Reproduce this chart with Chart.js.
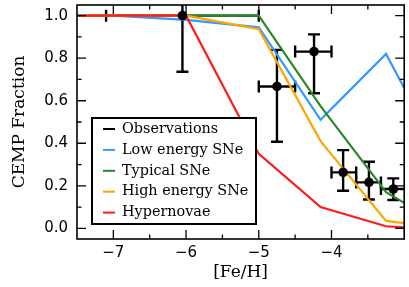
<!DOCTYPE html>
<html><head><meta charset="utf-8">
<script src="https://cdn.jsdelivr.net/npm/chart.js@4.4.1/dist/chart.umd.min.js"></script>
<style>html,body{margin:0;padding:0;background:#fff;}#wrap{width:409px;height:287px;}</style>
</head><body><div id="wrap"><canvas id="c" width="409" height="287"></canvas></div>
<script>
// ---- model curves ----
const feH        = [-7.5, -7.0, -6.0, -5.0, -4.15, -3.25, -3.0];
const lowEnergy  = [1.0, 1.0, 0.98, 0.945, 0.51, 0.82, 0.66];
const typicalSNe = [1.0, 1.0, 1.0, 1.0, 0.575, 0.17, 0.12];
const highEnergy = [1.0, 1.0, 1.0, 0.936, 0.41, 0.035, 0.025];
const hypernovae = [1.0, 1.0, 1.0, 0.35, 0.10, 0.01, 0.005];
// ---- observations ----
const obsFeH   = [-6.05, -4.75, -4.24, -3.84, -3.485, -3.15];
const obsFrac  = [1.0, 0.667, 0.831, 0.263, 0.216, 0.185];
const obsYLow  = [0.736, 0.407, 0.635, 0.177, 0.136, 0.133];
const obsYHigh = [1.264, 0.839, 0.912, 0.368, 0.313, 0.235];
const obsXLow  = [-7.1, -5.0, -4.5, -4.0, -3.66, -3.32];
const obsXHigh = [-5.0, -4.5, -4.0, -3.66, -3.32, -2.97];
// ---- ticks ----
const xMajor = [-7, -6, -5, -4];
const xMinor = [-6.5, -5.5, -4.5, -3.5];
const yMajor = [0.0, 0.2, 0.4, 0.6, 0.8, 1.0];
const yMinor = [0.1, 0.3, 0.5, 0.7, 0.9];
const seriesNames = ['Observations', 'Low energy SNe', 'Typical SNe', 'High energy SNe', 'Hypernovae'];
const seriesColors = ['#000000', '#3399ff', '#2a8a2a', '#ffa500', '#ff1a1a'];

const pts = (xs, ys) => xs.map((x, i) => ({x: x, y: ys[i]}));

function modelSet(idx, ys, order) {
  return {label: seriesNames[idx], data: pts(feH, ys), borderColor: seriesColors[idx],
    borderWidth: 2.2, pointRadius: 0, fill: false, tension: 0, order: order};
}

const errorBars = {
  id: 'errorBars',
  beforeDatasetsDraw(chart) {
    const {ctx, chartArea: a, scales: {x, y}} = chart;
    ctx.save();
    ctx.beginPath(); ctx.rect(a.left, a.top, a.right - a.left, a.bottom - a.top); ctx.clip();
    ctx.strokeStyle = '#000'; ctx.lineWidth = 2.4; ctx.lineCap = 'butt';
    const cap = 6;
    obsFeH.forEach((fx, i) => {
      const px = x.getPixelForValue(fx), py = y.getPixelForValue(obsFrac[i]);
      const x0 = x.getPixelForValue(obsXLow[i]), x1 = x.getPixelForValue(obsXHigh[i]);
      const y0 = y.getPixelForValue(obsYLow[i]), y1 = y.getPixelForValue(obsYHigh[i]);
      ctx.beginPath();
      ctx.moveTo(x0, py); ctx.lineTo(x1, py);
      ctx.moveTo(x0, py - cap); ctx.lineTo(x0, py + cap);
      ctx.moveTo(x1, py - cap); ctx.lineTo(x1, py + cap);
      ctx.moveTo(px, y0); ctx.lineTo(px, y1);
      ctx.moveTo(px - cap, y0); ctx.lineTo(px + cap, y0);
      ctx.moveTo(px - cap, y1); ctx.lineTo(px + cap, y1);
      ctx.stroke();
    });
    ctx.restore();
  }
};

const frameLegend = {
  id: 'frameLegend',
  afterDraw(chart) {
    const {ctx, chartArea: a, scales: {x, y}} = chart;
    ctx.save();
    // legend
    const lx = a.left + 15, ly = a.top + 113, lw = 164, lh = 106;
    ctx.fillStyle = '#fff'; ctx.fillRect(lx, ly, lw, lh);
    ctx.strokeStyle = '#000'; ctx.lineWidth = 2; ctx.strokeRect(lx, ly, lw, lh);
    ctx.font = '14.4px "DejaVu Serif"'; ctx.textBaseline = 'middle'; ctx.textAlign = 'left';
    seriesNames.forEach((n, i) => {
      const ry = ly + 11 + i * 20.9;
      ctx.strokeStyle = seriesColors[i]; ctx.lineWidth = 2;
      ctx.beginPath(); ctx.moveTo(lx + 11, ry); ctx.lineTo(lx + 23, ry); ctx.stroke();
      ctx.fillStyle = '#000'; ctx.fillText(n, lx + 30, ry);
    });
    // frame
    ctx.strokeStyle = '#000'; ctx.lineWidth = 1.6;
    ctx.strokeRect(a.left, a.top, a.right - a.left, a.bottom - a.top);
    ctx.lineWidth = 1.3;
    ctx.beginPath();
    const tx = (v, len) => { const p = x.getPixelForValue(v);
      ctx.moveTo(p, a.bottom); ctx.lineTo(p, a.bottom - len);
      ctx.moveTo(p, a.top); ctx.lineTo(p, a.top + len); };
    const ty = (v, len) => { const p = y.getPixelForValue(v);
      ctx.moveTo(a.left, p); ctx.lineTo(a.left + len, p);
      ctx.moveTo(a.right, p); ctx.lineTo(a.right - len, p); };
    xMajor.forEach(v => tx(v, 9)); xMinor.forEach(v => tx(v, 4.5));
    yMajor.forEach(v => ty(v, 9)); yMinor.forEach(v => ty(v, 4.5));
    ctx.stroke();
    ctx.restore();
  }
};

const zeroPad = s => { s.paddingTop = 0; s.paddingBottom = 0; s.paddingLeft = 0; s.paddingRight = 0; };

new Chart(document.getElementById('c'), {
  type: 'line',
  data: {
    datasets: [
      {label: seriesNames[0], data: pts(obsFeH, obsFrac), showLine: false, pointRadius: 4.8,
       pointBackgroundColor: '#000', pointBorderWidth: 0, borderColor: '#000', order: 0},
      modelSet(1, lowEnergy, 4),
      modelSet(2, typicalSNe, 3),
      modelSet(3, highEnergy, 2),
      modelSet(4, hypernovae, 1)
    ]
  },
  options: {
    responsive: false, animation: false, devicePixelRatio: 1,
    layout: {padding: {top: 5, right: 4, left: 0, bottom: 0}},
    plugins: {legend: {display: false}, tooltip: {enabled: false}},
    scales: {
      x: {type: 'linear', min: -7.5, max: -3.0,
        afterBuildTicks: s => { s.ticks = xMajor.map(v => ({value: v})); },
        afterFit: s => { s.height = 48; zeroPad(s); },
        grid: {display: false, drawTicks: false}, border: {display: false},
        ticks: {padding: 5, color: '#000', font: {family: 'DejaVu Sans', size: 15},
          callback: v => (v < 0 ? '\u2212' : '') + Math.abs(v)},
        title: {display: true, text: '[Fe/H]', color: '#000',
          font: {family: 'DejaVu Serif', size: 17}, padding: {top: 0, bottom: 4}}},
      y: {type: 'linear', min: -0.05, max: 1.05,
        afterBuildTicks: s => { s.ticks = yMajor.map(v => ({value: v})); },
        afterFit: s => { s.width = 77; zeroPad(s); },
        grid: {display: false, drawTicks: false}, border: {display: false},
        ticks: {padding: 9, color: '#000', font: {family: 'DejaVu Sans', size: 15},
          callback: v => v.toFixed(1)},
        title: {display: true, text: 'CEMP Fraction', color: '#000',
          font: {family: 'DejaVu Serif', size: 17}, padding: {top: 9, bottom: 0}}}
    }
  },
  plugins: [errorBars, frameLegend]
});
</script></body></html>
